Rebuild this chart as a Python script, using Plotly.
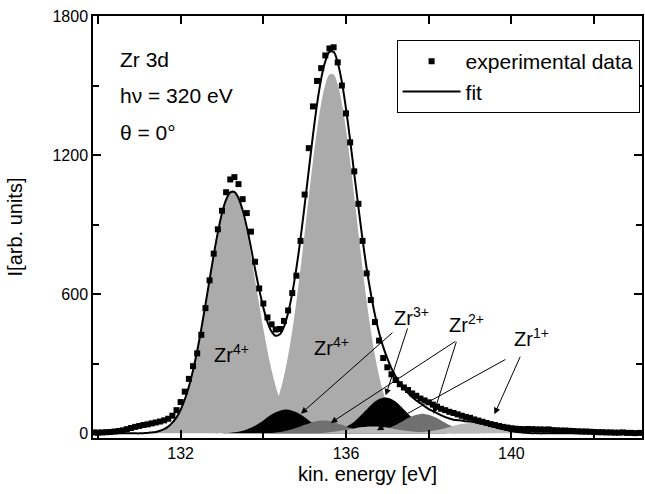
import plotly.graph_objects as go

# kinetic energy grid [eV]
ENERGY = [
    129.9, 130.0, 130.1, 130.2, 130.3, 130.4, 130.5, 130.6, 130.7, 130.8,
    130.9, 131.0, 131.1, 131.2, 131.3, 131.4, 131.5, 131.6, 131.7, 131.8,
    131.9, 132.0, 132.1, 132.2, 132.3, 132.4, 132.5, 132.6, 132.7, 132.8,
    132.9, 133.0, 133.1, 133.2, 133.3, 133.4, 133.5, 133.6, 133.7, 133.8,
    133.9, 134.0, 134.1, 134.2, 134.3, 134.4, 134.5, 134.6, 134.7, 134.8,
    134.9, 135.0, 135.1, 135.2, 135.3, 135.4, 135.5, 135.6, 135.7, 135.8,
    135.9, 136.0, 136.1, 136.2, 136.3, 136.4, 136.5, 136.6, 136.7, 136.8,
    136.9, 137.0, 137.1, 137.2, 137.3, 137.4, 137.5, 137.6, 137.7, 137.8,
    137.9, 138.0, 138.1, 138.2, 138.3, 138.4, 138.5, 138.6, 138.7, 138.8,
    138.9, 139.0, 139.1, 139.2, 139.3, 139.4, 139.5, 139.6, 139.7, 139.8,
    139.9, 140.0, 140.1, 140.2, 140.3, 140.4, 140.5, 140.6, 140.7, 140.8,
    140.9, 141.0, 141.1, 141.2, 141.3, 141.4, 141.5, 141.6, 141.7, 141.8,
    141.9, 142.0, 142.1, 142.2, 142.3, 142.4, 142.5, 142.6, 142.7, 142.8,
    142.9, 143.0, 143.1,
]

EXP_DATA = [
    4, 3, 4, 5, 6, 8, 10, 13, 18, 23,
    28, 32, 36, 39, 43, 47, 51, 56, 63, 76,
    100, 135, 180, 235, 290, 345, 425, 540, 660, 775,
    880, 960, 1040, 1095, 1105, 1075, 1010, 950, 870, 740,
    625, 560, 500, 470, 448, 450, 485, 530, 605, 680,
    830, 1030, 1230, 1410, 1520, 1575, 1630, 1660, 1665, 1600,
    1500, 1380, 1255, 1130, 990, 830, 690, 575, 480, 400,
    325, 285, 255, 230, 212, 198, 187, 172, 162, 150,
    142, 134, 124, 115, 106, 100, 93, 88, 82, 76,
    71, 67, 60, 55, 50, 45, 40, 36, 32, 28,
    25, 22, 20, 19, 18, 19, 18, 17, 17, 16,
    17, 14, 13, 12, 12, 11, 10, 9, 8, 8,
    7, 6, 5, 5, 4, 4, 3, 3, 4, 2,
    2, 1, 2,
]

FIT = [
    0, 0, 0, 0, 0, 0, 0, 0, 0, 0,
    0, 0, 1, 2, 4, 6, 11, 18, 29, 46,
    69, 102, 146, 202, 272, 355, 451, 555, 663, 770,
    867, 949, 1008, 1039, 1041, 1014, 962, 889, 802, 709,
    621, 543, 480, 439, 421, 427, 460, 520, 605, 713,
    840, 985, 1135, 1285, 1420, 1530, 1605, 1645, 1645, 1598,
    1515, 1400, 1265, 1118, 976, 837, 711, 603, 511, 434,
    373, 323, 280, 246, 217, 193, 174, 157, 142, 130,
    117, 105, 96, 87, 78, 70, 64, 59, 57, 55,
    52, 51, 49, 45, 42, 38, 32, 27, 22, 18,
    14, 10, 7, 5, 3, 2, 1, 1, 0, 0,
    0, 0, 0, 0, 0, 0, 0, 0, 0, 0,
    0, 0, 0, 0, 0, 0, 0, 0, 0, 0,
    0, 0, 0,
]

ZR4_3D32 = [
    0, 0, 0, 0, 0, 0, 0, 0, 0, 0,
    0, 0, 1, 2, 4, 6, 11, 18, 29, 46,
    69, 102, 146, 202, 272, 355, 451, 555, 663, 770,
    867, 948, 1006, 1036, 1036, 1006, 948, 867, 770, 663,
    555, 451, 355, 272, 202, 146, 102, 69, 46, 29,
    18, 11, 6, 4, 2, 1, 0, 0, 0, 0,
    0, 0, 0, 0, 0, 0, 0, 0, 0, 0,
    0, 0, 0, 0, 0, 0, 0, 0, 0, 0,
    0, 0, 0, 0, 0, 0, 0, 0, 0, 0,
    0, 0, 0, 0, 0, 0, 0, 0, 0, 0,
    0, 0, 0, 0, 0, 0, 0, 0, 0, 0,
    0, 0, 0, 0, 0, 0, 0, 0, 0, 0,
    0, 0, 0, 0, 0, 0, 0, 0, 0, 0,
    0, 0, 0,
]

ZR4_3D52 = [
    0, 0, 0, 0, 0, 0, 0, 0, 0, 0,
    0, 0, 0, 0, 0, 0, 0, 0, 0, 0,
    0, 0, 0, 0, 0, 0, 0, 0, 0, 0,
    0, 0, 0, 0, 0, 1, 3, 5, 8, 13,
    22, 35, 55, 84, 124, 177, 247, 336, 443, 569,
    711, 864, 1020, 1172, 1310, 1424, 1505, 1548, 1548, 1505,
    1424, 1310, 1172, 1020, 864, 711, 569, 443, 336, 247,
    177, 124, 84, 55, 35, 22, 13, 8, 5, 3,
    1, 0, 0, 0, 0, 0, 0, 0, 0, 0,
    0, 0, 0, 0, 0, 0, 0, 0, 0, 0,
    0, 0, 0, 0, 0, 0, 0, 0, 0, 0,
    0, 0, 0, 0, 0, 0, 0, 0, 0, 0,
    0, 0, 0, 0, 0, 0, 0, 0, 0, 0,
    0, 0, 0,
]

ZR3 = [
    0, 0, 0, 0, 0, 0, 0, 0, 0, 0,
    0, 0, 0, 0, 0, 0, 0, 0, 0, 0,
    0, 0, 0, 0, 0, 0, 0, 0, 0, 0,
    0, 1, 2, 3, 5, 7, 11, 17, 24, 33,
    44, 56, 69, 81, 91, 98, 102, 102, 98, 91,
    81, 69, 56, 44, 34, 25, 19, 15, 14, 16,
    20, 27, 38, 50, 67, 85, 103, 121, 137, 148,
    154, 154, 148, 137, 121, 103, 85, 67, 50, 37,
    25, 17, 11, 7, 4, 2, 1, 0, 0, 0,
    0, 0, 0, 0, 0, 0, 0, 0, 0, 0,
    0, 0, 0, 0, 0, 0, 0, 0, 0, 0,
    0, 0, 0, 0, 0, 0, 0, 0, 0, 0,
    0, 0, 0, 0, 0, 0, 0, 0, 0, 0,
    0, 0, 0,
]

ZR2 = [
    0, 0, 0, 0, 0, 0, 0, 0, 0, 0,
    0, 0, 0, 0, 0, 0, 0, 0, 0, 0,
    0, 0, 0, 0, 0, 0, 0, 0, 0, 0,
    0, 0, 0, 0, 0, 0, 0, 0, 0, 0,
    0, 1, 1, 2, 4, 6, 9, 13, 18, 24,
    30, 37, 43, 49, 53, 55, 55, 53, 49, 43,
    37, 30, 24, 18, 14, 10, 8, 8, 8, 10,
    15, 20, 27, 36, 46, 56, 66, 74, 80, 84,
    84, 80, 74, 66, 56, 46, 36, 27, 20, 14,
    9, 6, 4, 2, 1, 1, 0, 0, 0, 0,
    0, 0, 0, 0, 0, 0, 0, 0, 0, 0,
    0, 0, 0, 0, 0, 0, 0, 0, 0, 0,
    0, 0, 0, 0, 0, 0, 0, 0, 0, 0,
    0, 0, 0,
]

ZR1 = [
    0, 0, 0, 0, 0, 0, 0, 0, 0, 0,
    0, 0, 0, 0, 0, 0, 0, 0, 0, 0,
    0, 0, 0, 0, 0, 0, 0, 0, 0, 0,
    0, 0, 0, 0, 0, 0, 0, 0, 0, 0,
    0, 0, 0, 0, 0, 0, 0, 0, 0, 0,
    0, 0, 0, 1, 1, 2, 3, 5, 7, 9,
    12, 15, 18, 21, 25, 27, 29, 30, 30, 29,
    27, 25, 21, 18, 15, 12, 10, 8, 7, 6,
    7, 8, 11, 14, 18, 22, 27, 32, 37, 41,
    43, 45, 45, 43, 41, 37, 32, 27, 22, 18,
    14, 10, 7, 5, 3, 2, 1, 1, 0, 0,
    0, 0, 0, 0, 0, 0, 0, 0, 0, 0,
    0, 0, 0, 0, 0, 0, 0, 0, 0, 0,
    0, 0, 0,
]

for arr in (EXP_DATA, FIT, ZR4_3D32, ZR4_3D52, ZR3, ZR2, ZR1):
    assert len(arr) == len(ENERGY), len(arr)

FONT = "Arial, Liberation Sans, Helvetica, sans-serif"

fig = go.Figure()

components = [
    (ZR4_3D32, "#ababab"),
    (ZR4_3D52, "#ababab"),
    (ZR3, "#000000"),
    (ZR2, "#707070"),
    (ZR1, "#b9b9b9"),
]
for vals, col in components:
    fig.add_trace(go.Scatter(
        x=ENERGY, y=vals, mode="lines", line=dict(width=0, color=col, shape="spline"),
        fill="tozeroy", fillcolor=col, showlegend=False, hoverinfo="skip"))

fig.add_trace(go.Scatter(
    x=ENERGY, y=FIT, mode="lines", name="fit", legendrank=2,
    line=dict(color="black", width=2, shape="spline")))
fig.add_trace(go.Scatter(
    x=ENERGY, y=EXP_DATA, mode="markers", name="experimental data", legendrank=1,
    marker=dict(symbol="square", size=6, color="black", line=dict(width=0))))

# annotation arrows: (head_x, head_y, tail_x, tail_y)
ARROWS = [
    (134.91, 85, 137.16, 440),
    (136.96, 164, 137.50, 459),
    (135.63, 45, 138.68, 401),
    (138.12, 85, 138.68, 401),
    (136.75, 13, 139.89, 322),
    (139.59, 82, 140.23, 337),
]
for hx, hy, tx, ty in ARROWS:
    fig.add_annotation(x=hx, y=hy, ax=tx, ay=ty, xref="x", yref="y", axref="x", ayref="y",
                       text="", showarrow=True, arrowhead=2, arrowsize=1.3, arrowwidth=1,
                       arrowcolor="black", standoff=0, startstandoff=0)

LABELS = [
    ("Zr<sup>4+</sup>", 133.23, 345),
    ("Zr<sup>4+</sup>", 135.66, 375),
    ("Zr<sup>3+</sup>", 137.59, 505),
    ("Zr<sup>2+</sup>", 138.92, 475),
    ("Zr<sup>1+</sup>", 140.48, 414),
]
for txt, lx, ly in LABELS:
    fig.add_annotation(x=lx, y=ly, xref="x", yref="y", text=txt, showarrow=False,
                       font=dict(family=FONT, size=20, color="black"))

INFO = [("Zr 3d", 0.896), ("hν = 320 eV", 0.812), ("θ = 0°", 0.725)]
for txt, py in INFO:
    fig.add_annotation(x=0.045, y=py, xref="paper", yref="paper", text=txt, showarrow=False,
                       xanchor="left", yanchor="middle",
                       font=dict(family=FONT, size=21, color="black"))

axis_common = dict(
    showline=True, linecolor="black", linewidth=1.5, mirror="ticks",
    ticks="inside", ticklen=8, tickwidth=1.5, tickcolor="black",
    showgrid=False, zeroline=False,
    tickfont=dict(family=FONT, size=16, color="black"),
)

fig.update_xaxes(
    range=[129.88, 143.16], tickvals=[132, 136, 140],
    minor=dict(dtick=2, tick0=0, ticks="inside", ticklen=8, tickwidth=1.5, tickcolor="black", showgrid=False),
    title=dict(text="kin. energy [eV]", font=dict(family=FONT, size=20, color="black"), standoff=6),
    **axis_common)
fig.update_yaxes(
    range=[-20, 1800], tickvals=[0, 600, 1200, 1800],
    minor=dict(dtick=300, tick0=0, ticks="inside", ticklen=6, tickwidth=1.5, tickcolor="black", showgrid=False),
    title=dict(text="I[arb. units]", font=dict(family=FONT, size=20, color="black"), standoff=24),
    **axis_common)

fig.update_layout(
    width=645, height=494,
    margin=dict(l=93, r=1, t=16, b=56),
    plot_bgcolor="white", paper_bgcolor="white",
    font=dict(family=FONT, color="black"),
    legend=dict(x=0.553, y=0.943, xanchor="left", yanchor="top",
                bordercolor="black", borderwidth=1, bgcolor="white",
                font=dict(family=FONT, size=21, color="black"),
                itemwidth=58, tracegroupgap=0),
)

fig.write_html("out.html")
